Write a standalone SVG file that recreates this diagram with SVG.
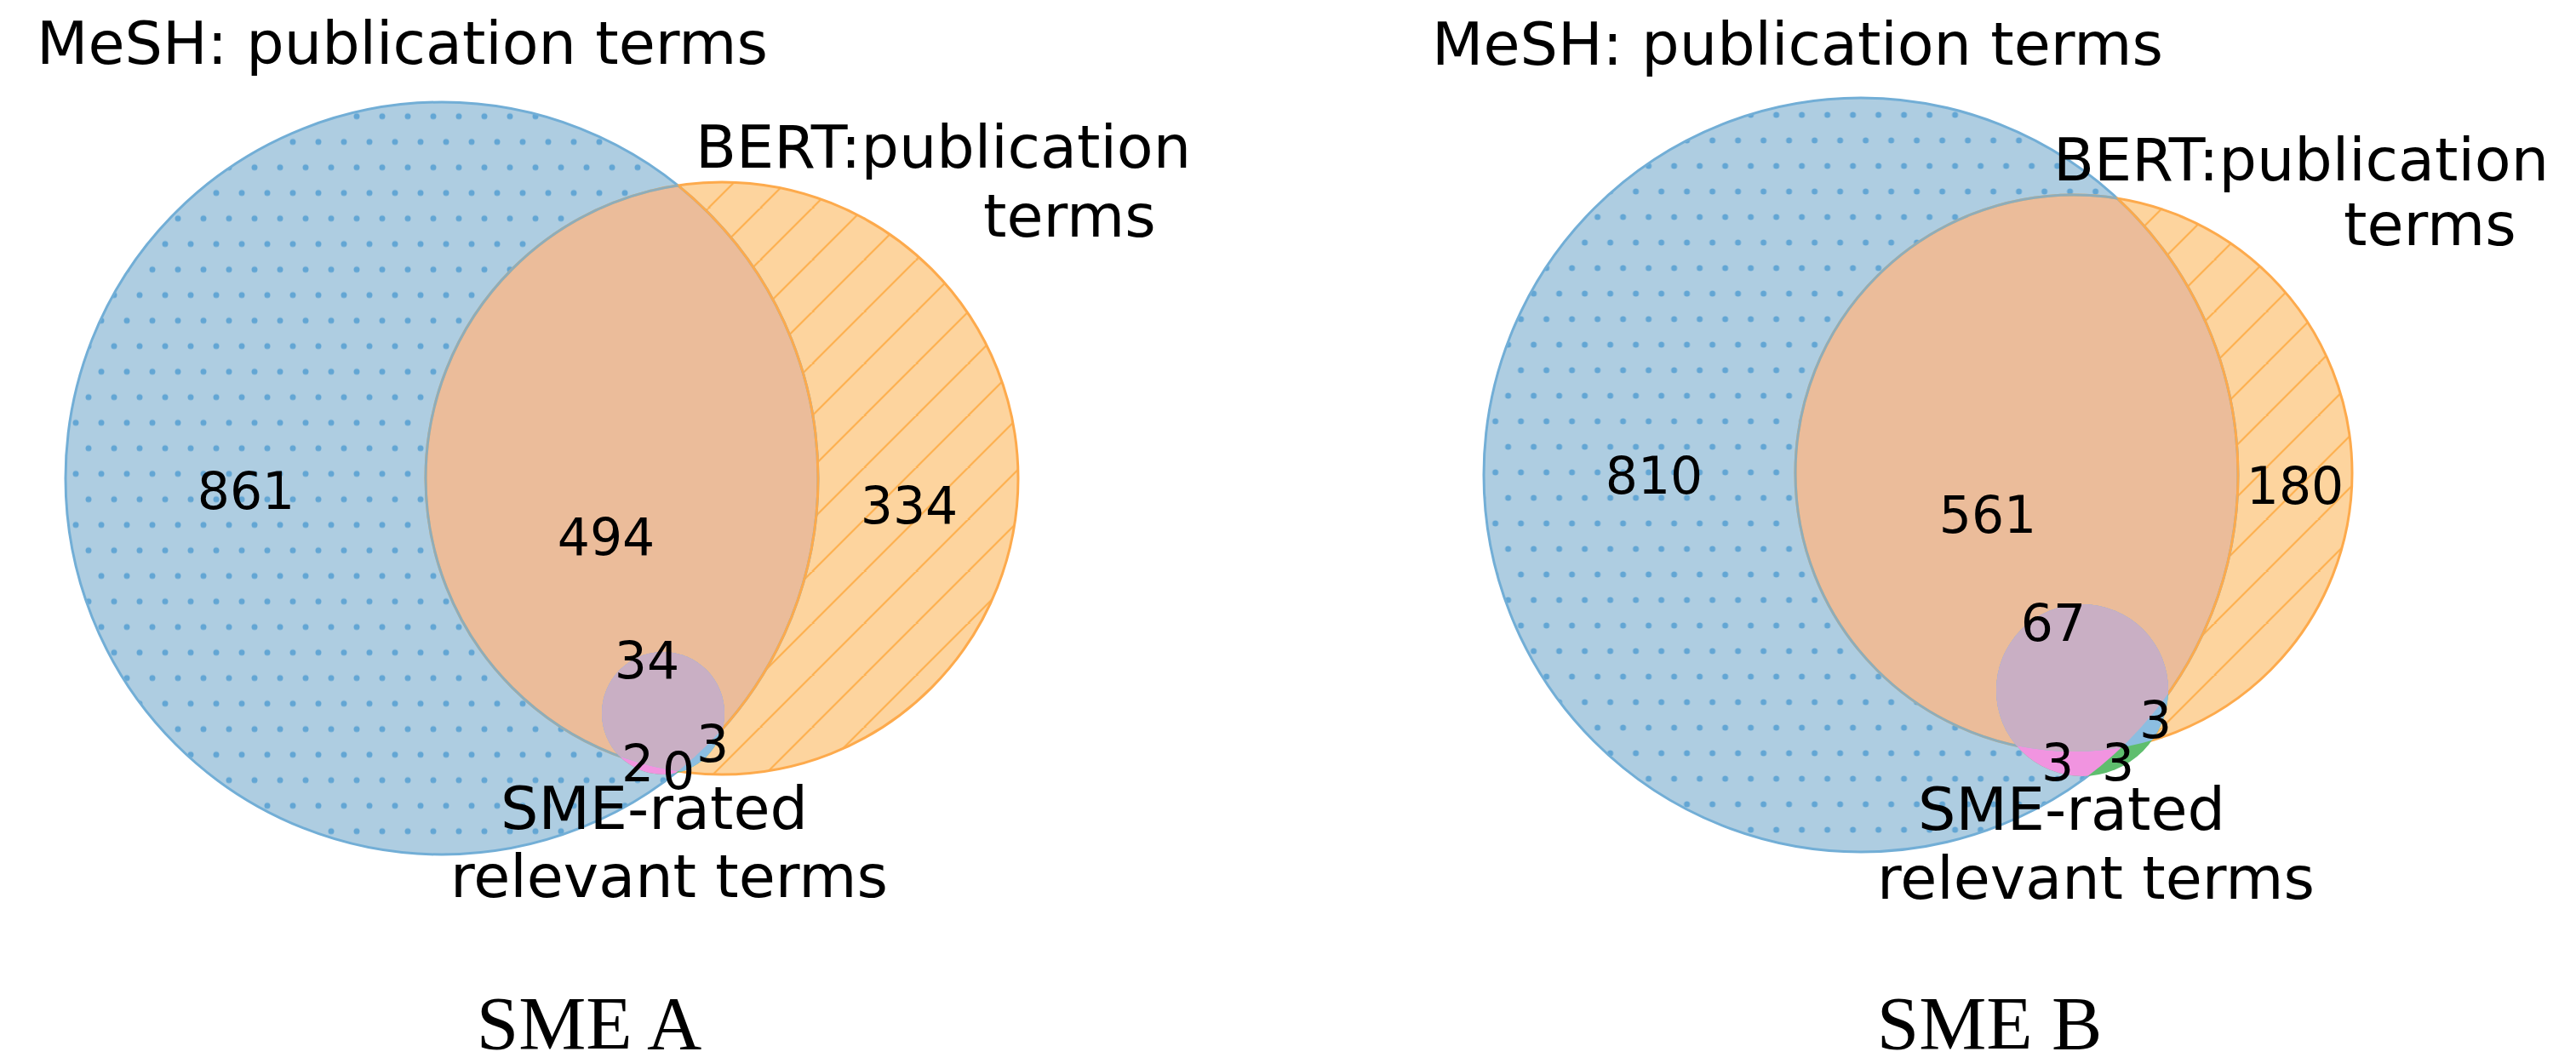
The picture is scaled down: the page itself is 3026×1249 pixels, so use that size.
<svg xmlns="http://www.w3.org/2000/svg" width="3026" height="1249" viewBox="0 0 3026 1249">
<style>
  .lbl{font-family:"DejaVu Sans",sans-serif;font-size:70px;fill:#000}
  .num{font-family:"DejaVu Sans",sans-serif;font-size:60px;fill:#000;text-anchor:middle}
  .ttl{font-family:"Liberation Serif","Times New Roman",serif;font-size:89px;fill:#000;text-anchor:middle}
  .mesh{fill:#AECDE1}
  .bert{fill:#FDD49E}
  .both{fill:#EBBC9A}
  .dot{fill:#63A6D4}
  .bstroke{fill:none;stroke:#72AED6;stroke-width:3}
  .ostroke{fill:none;stroke:#FDAA4C;stroke-width:3}
  .sme-only{fill:#5FBE6E}
  .sme-mesh{fill:#F194E0}
  .sme-bert{fill:#8CBEE1}
  .sme-all{fill:#C9AFC4}
</style>
<defs>
  <pattern id="dotsA" patternUnits="userSpaceOnUse" x="29" y="16.7" width="30" height="60">
    <circle class="dot" cx="0" cy="0" r="3.5"/><circle class="dot" cx="30" cy="0" r="3.5"/>
    <circle class="dot" cx="0" cy="60" r="3.5"/><circle class="dot" cx="30" cy="60" r="3.5"/>
    <circle class="dot" cx="15" cy="30" r="3.5"/>
  </pattern>
  <pattern id="dotsB" patternUnits="userSpaceOnUse" x="16.6" y="15" width="30" height="60">
    <circle class="dot" cx="0" cy="0" r="3.5"/><circle class="dot" cx="30" cy="0" r="3.5"/>
    <circle class="dot" cx="0" cy="60" r="3.5"/><circle class="dot" cx="30" cy="60" r="3.5"/>
    <circle class="dot" cx="15" cy="30" r="3.5"/>
  </pattern>
  <pattern id="hatch" patternUnits="userSpaceOnUse" x="39.6" y="0" width="61" height="61">
    <path d="M0,61 L61,0 M-5,5 L5,-5 M56,66 L66,56" stroke="#FDAE4B" stroke-width="2"/>
  </pattern>
  <clipPath id="blueA"><circle cx="519" cy="562" r="442"/></clipPath>
  <clipPath id="orangeA"><circle cx="848" cy="562" r="348"/></clipPath>
  <clipPath id="blueB"><circle cx="2186" cy="558" r="443"/></clipPath>
  <clipPath id="orangeB"><circle cx="2436" cy="556" r="327"/></clipPath>
</defs>

<!-- ===== SME A ===== -->
<g id="A-mesh">
  <circle class="mesh" cx="519" cy="562" r="442"/>
  <circle cx="519" cy="562" r="442" fill="url(#dotsA)"/>
</g>
<g id="A-bert">
  <circle class="bert" cx="848" cy="562" r="348"/>
  <circle cx="848" cy="562" r="348" fill="url(#hatch)"/>
</g>
<g id="A-mesh-bert">
  <circle class="both" cx="848" cy="562" r="348" clip-path="url(#blueA)"/>
</g>
<g id="A-outlines">
  <circle class="bstroke" cx="519" cy="562" r="442"/>
  <circle class="ostroke" cx="848" cy="562" r="348"/>
  <circle class="ostroke" cx="519" cy="562" r="442" clip-path="url(#orangeA)"/>
  <circle class="bstroke" cx="848" cy="562" r="348" clip-path="url(#blueA)" opacity="0.8"/>
</g>
<g id="A-sme">
  <circle class="sme-only" cx="779" cy="838" r="72"/>
  <circle class="sme-mesh" cx="779" cy="838" r="72" clip-path="url(#blueA)"/>
  <circle class="sme-bert" cx="779" cy="838" r="72" clip-path="url(#orangeA)"/>
  <g clip-path="url(#blueA)">
    <circle class="sme-all" cx="779" cy="838" r="72" clip-path="url(#orangeA)"/>
  </g>
</g>
<g id="A-labels">
  <text class="lbl" x="43" y="75">MeSH: publication terms</text>
  <text class="lbl" x="817" y="197">BERT:publication</text>
  <text class="lbl" x="1155" y="278">terms</text>
  <text class="lbl" x="588" y="974">SME-rated</text>
  <text class="lbl" x="529" y="1054">relevant terms</text>
  <text class="num" x="289" y="598">861</text>
  <text class="num" x="712" y="652">494</text>
  <text class="num" x="1068" y="615">334</text>
  <text class="num" x="760" y="797">34</text>
  <text class="num" x="749" y="918">2</text>
  <text class="num" x="797" y="927">0</text>
  <text class="num" x="837" y="895">3</text>
  <text class="ttl" x="692" y="1232">SME A</text>
</g>

<!-- ===== SME B ===== -->
<g id="B-mesh">
  <circle class="mesh" cx="2186" cy="558" r="443"/>
  <circle cx="2186" cy="558" r="443" fill="url(#dotsB)"/>
</g>
<g id="B-bert">
  <circle class="bert" cx="2436" cy="556" r="327"/>
  <circle cx="2436" cy="556" r="327" fill="url(#hatch)"/>
</g>
<g id="B-mesh-bert">
  <circle class="both" cx="2436" cy="556" r="327" clip-path="url(#blueB)"/>
</g>
<g id="B-outlines">
  <circle class="bstroke" cx="2186" cy="558" r="443"/>
  <circle class="ostroke" cx="2436" cy="556" r="327"/>
  <circle class="ostroke" cx="2186" cy="558" r="443" clip-path="url(#orangeB)"/>
  <circle class="bstroke" cx="2436" cy="556" r="327" clip-path="url(#blueB)" opacity="0.8"/>
</g>
<g id="B-sme">
  <circle class="sme-only" cx="2446" cy="811" r="101"/>
  <circle class="sme-mesh" cx="2446" cy="811" r="101" clip-path="url(#blueB)"/>
  <circle class="sme-bert" cx="2446" cy="811" r="101" clip-path="url(#orangeB)"/>
  <g clip-path="url(#blueB)">
    <circle class="sme-all" cx="2446" cy="811" r="101" clip-path="url(#orangeB)"/>
  </g>
</g>
<g id="B-labels">
  <text class="lbl" x="1682" y="76">MeSH: publication terms</text>
  <text class="lbl" x="2412" y="212">BERT:publication</text>
  <text class="lbl" x="2753" y="288">terms</text>
  <text class="lbl" x="2253" y="975">SME-rated</text>
  <text class="lbl" x="2205" y="1056">relevant terms</text>
  <text class="num" x="1943" y="580">810</text>
  <text class="num" x="2335" y="626">561</text>
  <text class="num" x="2696" y="592">180</text>
  <text class="num" x="2412" y="753">67</text>
  <text class="num" x="2532" y="867">3</text>
  <text class="num" x="2417" y="917">3</text>
  <text class="num" x="2488" y="917">3</text>
  <text class="ttl" x="2337" y="1232">SME B</text>
</g>
</svg>
